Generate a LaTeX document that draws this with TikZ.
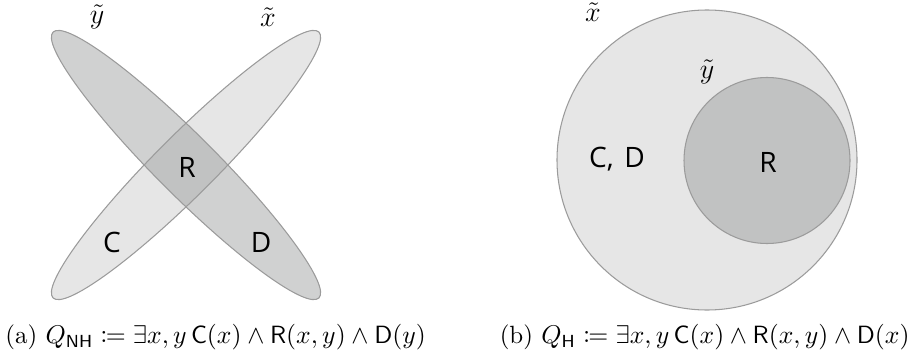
\documentclass[tikz,border=0pt]{standalone}
\usepackage{amsmath,amssymb,mathtools}
\usepackage{fontspec}
\newfontfamily\labelfont{Open Sans}
\usepackage{tikz}
\definecolor{setlight}{RGB}{230,230,230}
\definecolor{setdark}{RGB}{208,209,209}
\definecolor{setboth}{RGB}{193,194,194}
\definecolor{setline}{RGB}{155,155,155}

\begin{document}
\begin{tikzpicture}[
  x=0.015cm, y=0.015cm,
  setedge/.style={draw=setline, line width=0.45pt},
  lab/.style={font=\labelfont\large, inner sep=0pt},
  var/.style={font=\large, inner sep=0pt},
  captext/.style={inner sep=0pt, font=\fontsize{10.65}{13}\selectfont}
]
\useasboundingbox (0,0) rectangle (923,355);

% (a) crossing ellipses
\fill[setdark, rotate around={-45:(186,190)}] (186,190) ellipse [x radius=188, y radius=30];
\fill[setlight, rotate around={45:(186,190)}] (186,190) ellipse [x radius=188, y radius=30];
\begin{scope}
  \clip[rotate around={-45:(186,190)}] (186,190) ellipse [x radius=188, y radius=30];
  \fill[setboth, rotate around={45:(186,190)}] (186,190) ellipse [x radius=188, y radius=30];
\end{scope}
\draw[setedge, rotate around={-45:(186,190)}] (186,190) ellipse [x radius=188, y radius=30];
\draw[setedge, rotate around={45:(186,190)}] (186,190) ellipse [x radius=188, y radius=30];

\node[var] (ya) at (97,338) {$\tilde{y}$};
\node[var] (xa) at (268,338) {$\tilde{x}$};
\node[lab] (Ra) at (187,188) {R};
\node[lab] (Ca) at (112,113) {C};
\node[lab] (Da) at (261,113) {D};

% (b) nested circles
\filldraw[fill=setlight, setedge] (707,195) circle [radius=150];
\filldraw[fill=setboth, setedge] (767,194.5) circle [radius=83];

\node[var] (xb) at (593,343) {$\tilde{x}$};
\node[var] (yb) at (707,283) {$\tilde{y}$};
\node[lab] (CDb) at (617,196) {C,\hspace{0.12em} D};
\node[lab] (Rb) at (768,193) {R};

% captions
\node[captext, anchor=west] (capa) at (5,18)
  {(a) $Q_{\mathsf{NH}} \coloneqq \exists x, y\, \mathsf{C}(x) \wedge \mathsf{R}(x,y) \wedge \mathsf{D}(y)$};
\node[captext, anchor=east] (capb) at (910,18)
  {(b) $Q_{\mathsf{H}} \coloneqq \exists x, y\, \mathsf{C}(x) \wedge \mathsf{R}(x,y) \wedge \mathsf{D}(x)$};
\end{tikzpicture}
\end{document}
